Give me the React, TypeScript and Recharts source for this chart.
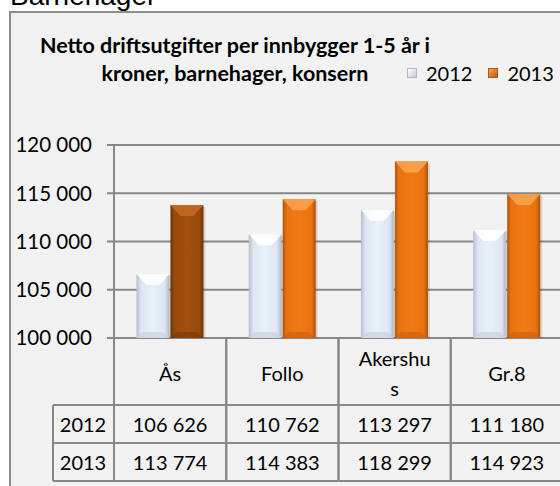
import { BarChart, Bar, XAxis, YAxis, CartesianGrid } from 'recharts'

const CATEGORIES = ['Ås', 'Follo', 'Akershus', 'Gr.8']
const VALUES_2012 = [106626, 110762, 113297, 111180]
const VALUES_2013 = [113774, 114383, 118299, 114923]
const Y_TICKS = [100000, 105000, 110000, 115000, 120000]
const SERIES = [
  { key: 'v2012', name: '2012', values: VALUES_2012 },
  { key: 'v2013', name: '2013', values: VALUES_2013 },
]
const HIGHLIGHT = 'Ås'

const data = CATEGORIES.map((category, i) => ({
  category,
  v2012: VALUES_2012[i],
  v2013: VALUES_2013[i],
}))

const FONT = 'Lato, "Open Sans", sans-serif'
const GRID = '#878787'
const CHART_W = 600
const CHART_H = 486
const PLOT_LEFT = 114
const PLOT_RIGHT = 563
const PLOT_TOP = 145
const PLOT_BOTTOM = 338
const BAND = (PLOT_RIGHT - PLOT_LEFT) / CATEGORIES.length

const fmt = (v: number) => String(v).replace(/\B(?=(\d{3})+(?!\d))/g, ' ')

// Excel-ish wrapping of long category names
const wrap = (s: string) => (s.length > 7 ? [s.slice(0, 7), s.slice(7)] : [s])

const PALETTE: Record<string, { grad: string; top: string; bottom: string }> = {
  light: { grad: 'gLight', top: '#ffffff', bottom: '#c9d3df' },
  orange: { grad: 'gOrange', top: '#f8a24e', bottom: '#cc620e' },
  brown: { grad: 'gBrown', top: '#c7671f', bottom: '#7c3c08' },
}

function BevelBar(props: any) {
  const { x, y, width: w, height: h, tone } = props
  if (!h || h <= 0) return null
  const p = PALETTE[tone]
  const bs = Math.min(10, w / 3)
  const bt = Math.min(11, h / 2)
  const bb = Math.min(6, h / 4)
  return (
    <g>
      <rect x={x + 2} y={y + 2} width={w} height={h} fill="rgba(0,0,0,0.12)" />
      <rect x={x} y={y} width={w} height={h} fill={`url(#${p.grad})`} />
      <polygon
        points={`${x},${y} ${x + w},${y} ${x + w - bs},${y + bt} ${x + bs},${y + bt}`}
        fill={p.top}
        opacity={0.9}
      />
      <polygon
        points={`${x},${y + h} ${x + w},${y + h} ${x + w - 6},${y + h - bb} ${x + 6},${y + h - bb}`}
        fill={p.bottom}
        opacity={0.7}
      />
    </g>
  )
}

function TableTick(props: any) {
  const { x, payload } = props
  const i = payload.index
  const y = PLOT_BOTTOM
  const l = x - BAND / 2
  const r = x + BAND / 2
  const lines = wrap(payload.value)
  const txt = { fontFamily: FONT, fontSize: 20, fill: '#000' }
  return (
    <g>
      <line x1={l} y1={y} x2={l} y2={y + 143} stroke={GRID} strokeWidth={2} />
      <line x1={r} y1={y} x2={r} y2={y + 143} stroke={GRID} strokeWidth={2} />
      {[67, 105, 143].map((dy) => (
        <line key={dy} x1={l} y1={y + dy} x2={r} y2={y + dy} stroke={GRID} strokeWidth={2} />
      ))}
      {lines.map((t, k) => (
        <text
          key={k}
          x={x}
          y={lines.length === 1 ? y + 35 : y + 20 + k * 30}
          textAnchor="middle"
          dominantBaseline="central"
          {...txt}
        >
          {t}
        </text>
      ))}
      {SERIES.map((s, k) => (
        <text key={s.key} x={x} y={y + 86 + k * 38} textAnchor="middle" dominantBaseline="central" {...txt}>
          {fmt(s.values[i])}
        </text>
      ))}
      {i === 0 && (
        <g>
          <line x1={53} y1={y + 67} x2={53} y2={y + 143} stroke={GRID} strokeWidth={2} />
          {[67, 105, 143].map((dy) => (
            <line key={dy} x1={53} y1={y + dy} x2={l} y2={y + dy} stroke={GRID} strokeWidth={2} />
          ))}
          {SERIES.map((s, k) => (
            <text key={s.key} x={83} y={y + 86 + k * 38} textAnchor="middle" dominantBaseline="central" {...txt}>
              {s.name}
            </text>
          ))}
        </g>
      )}
    </g>
  )
}

export default function App() {
  return (
    <div
      style={{
        position: 'fixed',
        left: 0,
        top: 0,
        width: 560,
        height: 486,
        overflow: 'hidden',
        background: '#fff',
      }}
    >
      <div
        style={{
          position: 'absolute',
          left: 10,
          top: -18,
          fontFamily: '"Liberation Sans", Arial, sans-serif',
          fontSize: 28,
          lineHeight: '28px',
          color: '#000',
        }}
      >
        Barnehager
      </div>
      <div
        style={{
          position: 'absolute',
          left: 9,
          top: 11,
          width: 620,
          height: 520,
          border: '2px solid #8c8c8c',
          background: '#f2f2f2',
        }}
      />
      <div
        style={{
          position: 'absolute',
          left: 15,
          top: 31,
          width: 440,
          textAlign: 'center',
          fontFamily: FONT,
          fontWeight: 700,
          fontSize: 21.5,
          lineHeight: '28px',
          color: '#000',
        }}
      >
        Netto driftsutgifter per innbygger 1-5 år i
        <br />
        kroner, barnehager, konsern
      </div>
      <div
        style={{
          position: 'absolute',
          left: 407,
          top: 59,
          display: 'flex',
          alignItems: 'center',
          fontFamily: FONT,
          fontSize: 20,
          lineHeight: '28px',
          color: '#000',
        }}
      >
        {SERIES.map((s, k) => (
          <div key={s.key} style={{ display: 'flex', alignItems: 'center', marginRight: 16 }}>
            <span
              style={{
                width: 10,
                height: 10,
                marginRight: 9,
                background:
                  k === 0
                    ? 'linear-gradient(135deg, #ffffff, #c3cdd9)'
                    : 'linear-gradient(135deg, #f8a24e, #c45c0c)',
                border: k === 0 ? '1px solid #b0b8c4' : '1px solid #b5540a',
                boxSizing: 'border-box',
              }}
            />
            {s.name}
          </div>
        ))}
      </div>
      <div style={{ position: 'absolute', left: 0, top: 0 }}>
        <BarChart
          width={CHART_W}
          height={CHART_H}
          data={data}
          margin={{ top: PLOT_TOP, right: CHART_W - PLOT_RIGHT, left: 0, bottom: 0 }}
          barCategoryGap="20%"
          barGap={1}
        >
          <defs>
            <linearGradient id="gLight" x1="0" y1="0" x2="1" y2="0">
              <stop offset="0%" stopColor="#b4bfcc" />
              <stop offset="14%" stopColor="#dde6f1" />
              <stop offset="50%" stopColor="#e9f1fb" />
              <stop offset="86%" stopColor="#dde6f1" />
              <stop offset="100%" stopColor="#aeb9c7" />
            </linearGradient>
            <linearGradient id="gOrange" x1="0" y1="0" x2="1" y2="0">
              <stop offset="0%" stopColor="#b2540a" />
              <stop offset="12%" stopColor="#ea720f" />
              <stop offset="50%" stopColor="#f27a16" />
              <stop offset="88%" stopColor="#ea720f" />
              <stop offset="100%" stopColor="#a94f08" />
            </linearGradient>
            <linearGradient id="gBrown" x1="0" y1="0" x2="1" y2="0">
              <stop offset="0%" stopColor="#6c3305" />
              <stop offset="12%" stopColor="#974a0c" />
              <stop offset="50%" stopColor="#a3500f" />
              <stop offset="88%" stopColor="#974a0c" />
              <stop offset="100%" stopColor="#673004" />
            </linearGradient>
          </defs>
          <CartesianGrid vertical={false} stroke={GRID} strokeWidth={2} />
          <XAxis
            dataKey="category"
            height={CHART_H - PLOT_BOTTOM}
            axisLine={false}
            tickLine={false}
            tickSize={0}
            tickMargin={0}
            interval={0}
            tick={<TableTick />}
          />
          <YAxis
            width={PLOT_LEFT}
            domain={[100000, 120000]}
            ticks={Y_TICKS}
            allowDataOverflow
            tickFormatter={fmt}
            tickSize={7}
            tickMargin={15}
            axisLine={{ stroke: GRID, strokeWidth: 2 }}
            tickLine={{ stroke: GRID, strokeWidth: 2 }}
            tick={{ fontFamily: FONT, fontSize: 20.5, fill: '#000' }}
          />
          <Bar
            dataKey="v2012"
            name="2012"
            isAnimationActive={false}
            shape={(p: any) => <BevelBar {...p} tone="light" />}
          />
          <Bar
            dataKey="v2013"
            name="2013"
            isAnimationActive={false}
            shape={(p: any) => (
              <BevelBar {...p} tone={p.payload.category === HIGHLIGHT ? 'brown' : 'orange'} />
            )}
          />
        </BarChart>
      </div>
    </div>
  )
}
